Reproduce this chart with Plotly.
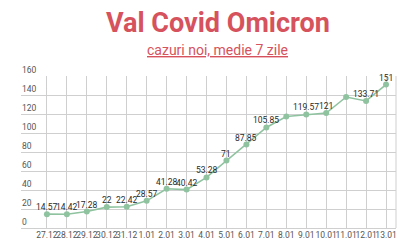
import plotly.graph_objects as go

categories = ["27.12", "28.12", "29.12", "30.12", "31.12", "1.01", "2.01", "3.01", "4.01",
              "5.01", "6.01", "7.01", "8.01", "9.01", "10.01", "11.01", "12.01", "13.01"]
values = [14.57, 14.42, 17.28, 22, 22.42, 28.57, 41.28, 40.42, 53.28,
          71, 87.85, 105.85, 117.4, 119.57, 121, 137.9, 133.71, 151]
labels = ["14.57", "14.42", "17.28", "22", "22.42", "28.57", "41.28", "40.42", "53.28",
          "71", "87.85", "105.85", "", "119.57", "121", "", "133.71", "151"]
y_ticks = [0, 20, 40, 60, 80, 100, 120, 140, 160]

red = "#d6525c"
green = "#8fc3a0"
grid = "#cfcfcf"

fig = go.Figure()
fig.add_trace(go.Scatter(
    x=categories, y=values, mode="lines+markers",
    line=dict(color=green, width=1.6),
    marker=dict(color=green, size=6),
    cliponaxis=False, hoverinfo="skip",
))

annotations = [
    dict(text="<b>Val Covid Omicron</b>", xref="paper", yref="paper",
         x=0.524, y=1.0, yanchor="middle", yshift=53, showarrow=False,
         font=dict(family="Roboto", size=27, color=red)),
    dict(text="<u>cazuri noi, medie 7 zile</u>", xref="paper", yref="paper",
         x=0.524, y=1.0, yanchor="middle", yshift=26, showarrow=False,
         font=dict(family="Roboto", size=14, color=red)),
]
for v in y_ticks:
    annotations.append(dict(
        text=str(v), xref="paper", yref="y", x=0, y=v,
        xanchor="left", yanchor="bottom", showarrow=False, borderpad=0,
        font=dict(family="Roboto", size=8.5, color="#555"),
    ))
# category axis: annotation x given as the category's index position
for i, (v, t) in enumerate(zip(values, labels)):
    if t:
        annotations.append(dict(
            text=t, xref="x", yref="y", x=i, y=v,
            xanchor="center", yanchor="bottom", yshift=1, showarrow=False,
            borderpad=0,
            font=dict(family="Roboto", size=8.5, color="#2a2a2a"),
        ))

fig.update_layout(
    width=400, height=250,
    margin=dict(l=21, r=4, t=76, b=22, autoexpand=False),
    paper_bgcolor="white", plot_bgcolor="white",
    showlegend=False,
    font=dict(family="Roboto", color="#555"),
    annotations=annotations,
    shapes=[dict(type="line", xref="paper", yref="paper", x0=1, x1=1, y0=0, y1=1,
                 line=dict(color=grid, width=1))],
)
fig.update_xaxes(
    type="category", range=[-1.3, 17.5],
    showgrid=True, gridcolor=grid, gridwidth=1,
    tickfont=dict(family="Roboto", size=8.5, color="#555"),
    tickangle=0, automargin=False,
    ticks="", showline=False, zeroline=False,
)
fig.update_yaxes(
    range=[0, 160], tickvals=y_ticks, showticklabels=False,
    showgrid=True, gridcolor=grid, gridwidth=1,
    zeroline=True, zerolinecolor=grid, zerolinewidth=1,
    showline=False, ticks="", automargin=False,
)

fig.write_html("out.html")
